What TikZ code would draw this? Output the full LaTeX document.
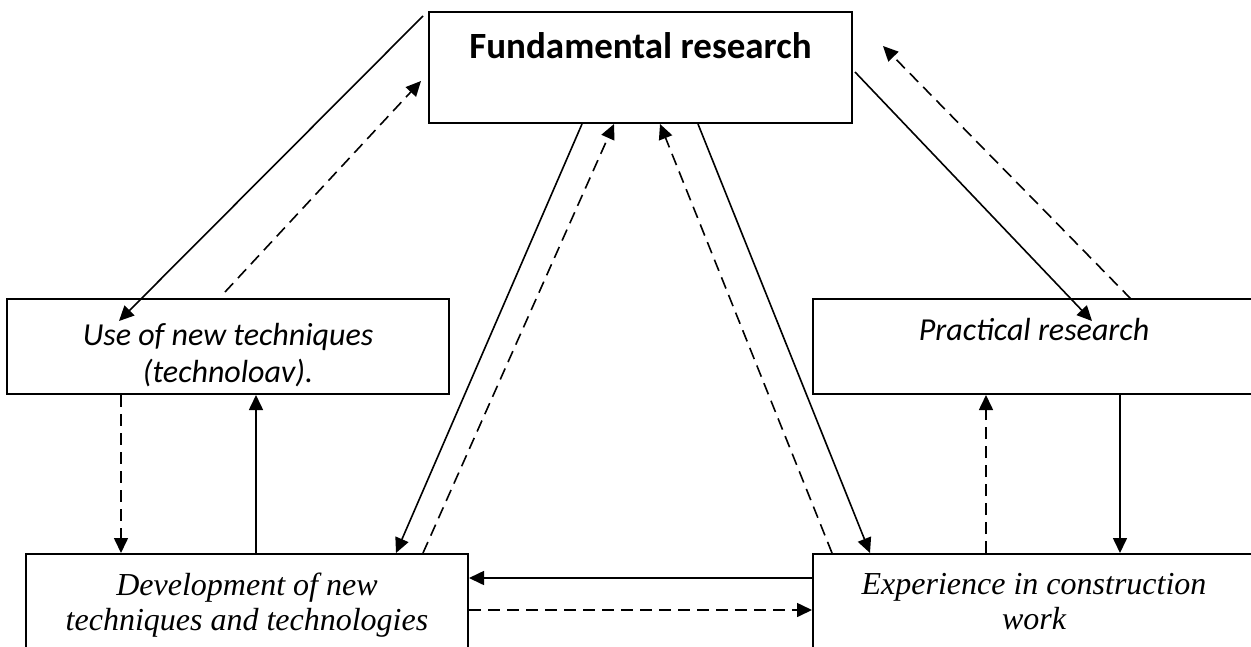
\documentclass[tikz,border=0pt]{standalone}
\usepackage{fontspec}
\setmainfont{Liberation Serif}
\newfontfamily\carlito{Carlito}
\usetikzlibrary{arrows.meta}

\begin{document}
\begin{tikzpicture}[x=1pt,y=-1pt,
    box/.style={draw,line width=2pt,inner sep=0pt},
    link/.style={line width=1.6pt,-{Triangle[length=15pt,width=14pt]}},
    back/.style={link,dash pattern=on 12pt off 7pt},
    sanslab/.style={font=\carlito\itshape\fontsize{32}{37}\selectfont,align=center,anchor=base},
    seriflab/.style={font=\itshape\fontsize{32}{35}\selectfont,align=center,anchor=base}]
  \useasboundingbox (0,0) rectangle (1251,646);
  \clip (0,0) rectangle (1251,646);

  % boxes
  \node[box,minimum width=423pt,minimum height=111pt] (fund) at (640.5,67.5) {};
  \node[box,minimum width=442pt,minimum height=95pt] (use) at (228,346.5) {};
  \node[box,minimum width=442pt,minimum height=95pt] (prac) at (1034,346.5) {};
  \node[box,minimum width=442pt,minimum height=120pt] (dev) at (247,614) {};
  \node[box,minimum width=442pt,minimum height=120pt] (exp) at (1034,614) {};

  % texts (base = last line)
  \node[font=\carlito\bfseries\fontsize{37}{44}\selectfont,anchor=base] (fundtxt) at (640.5,58) {Fundamental research};
  \node[sanslab] (usetxt) at (228,382) {Use of new techniques\\(technoloav).};
  \node[sanslab] (practxt) at (1034,340) {Practical research};
  \node[seriflab] (devtxt) at (247,630) {Development of new\\techniques and technologies};
  \node[seriflab] (exptxt) at (1034,629) {Experience in construction\\work};

  % diagonals to and from the top
  \draw[link] ([xshift=-5,yshift=-5]fund.north west) -- ([xshift=113,yshift=-23]use.north west);
  \draw[back] ([xshift=219,yshift=6]use.north west) -- ([xshift=-7,yshift=-70]fund.north west);
  \draw[link] ([xshift=154]fund.south west) -- ([xshift=371]dev.north west);
  \draw[back] ([xshift=398]dev.north west) -- ([xshift=186]fund.south west);
  \draw[back] ([xshift=20]exp.north west) -- ([xshift=232]fund.south west);
  \draw[link] ([xshift=270]fund.south west) -- ([xshift=58]exp.north west);
  \draw[link] ([xshift=2,yshift=-61]fund.north east) -- ([xshift=280,yshift=-23]prac.north west);
  \draw[back] ([xshift=319,yshift=-1]prac.north west) -- ([xshift=30,yshift=-35]fund.north east);

  % verticals between the side boxes
  \draw[back] ([xshift=115]use.south west) -- ([xshift=96]dev.north west);
  \draw[link] ([xshift=231]dev.north west) -- ([xshift=250]use.south west);
  \draw[back] ([xshift=174]exp.north west) -- ([xshift=174]prac.south west);
  \draw[link] ([xshift=308]prac.south west) -- ([xshift=308]exp.north west);

  % bottom pair
  \draw[link] ([yshift=-25]exp.north west) -- ([yshift=-25]dev.north east);
  \draw[back] ([yshift=-57]dev.north east) -- ([yshift=-57]exp.north west);
\end{tikzpicture}
\end{document}
